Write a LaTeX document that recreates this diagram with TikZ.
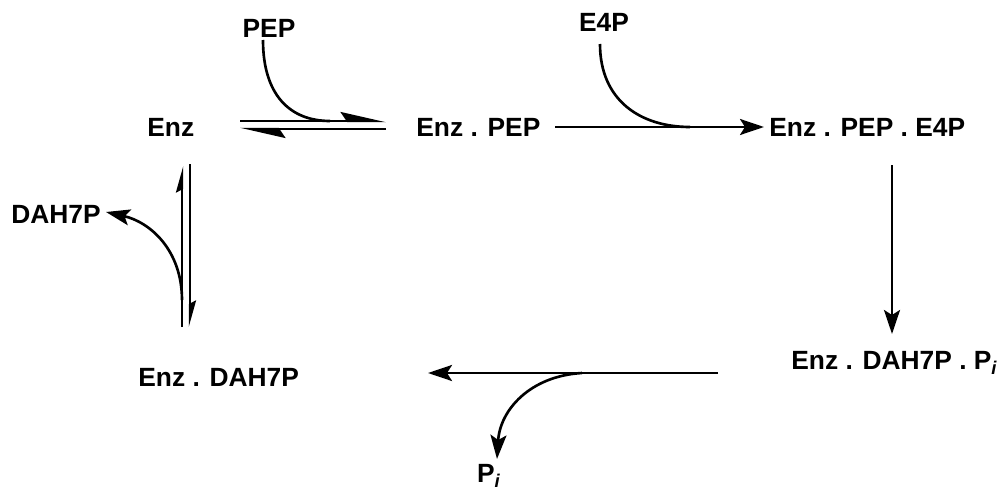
\documentclass[tikz,border=0pt]{standalone}
\usepackage{fontspec}
\setmainfont{Liberation Sans}
\usetikzlibrary{arrows.meta}
\begin{document}
\begin{tikzpicture}[x=0.02cm,y=-0.02cm,
  lbl/.style={inner sep=0pt,font=\fontsize{15}{17}\selectfont\bfseries},
  rxn/.style={line width=1.5pt,-{Stealth[length=24*0.02cm,width=16*0.02cm,inset=5*0.02cm]}},
  half/.style={line width=1.4pt,-{Stealth[harpoon,length=40*0.02cm,width=18*0.02cm,inset=6*0.02cm]}},
  vhalf/.style={line width=1.4pt,-{Stealth[harpoon,length=22*0.02cm,width=12*0.02cm,inset=3*0.02cm]}},
  sidecurve/.style={line width=1.5pt}]
\useasboundingbox (0,0) rectangle (1001,490);
% species
\node[lbl,anchor=west] (enz) at (147,127) {Enz};
\node[lbl,anchor=west] (enzpep) at (416,127) {Enz . PEP};
\node[lbl,anchor=west] (tern) at (769,127) {Enz . PEP . E4P};
\node[lbl,anchor=west] (dahpi) at (791,363) {Enz . DAH7P . P\textsubscript{\textit{i}}};
\node[lbl,anchor=west] (enzdah) at (138,377) {Enz . DAH7P};
\node[lbl] (pep) at (269,28) {PEP};
\node[lbl] (e4p) at (604,22) {E4P};
\node[lbl,anchor=west] (dah) at (11,214) {DAH7P};
\node[lbl] (pi) at (489,476) {P\textsubscript{\textit{i}}};
% connector endpoints
\coordinate (eqA) at (240,121); \coordinate (eqB) at (386,121);
\coordinate (eqC) at (386,129); \coordinate (eqD) at (240,129);
\coordinate (pepS) at (263,40); \coordinate (pepJ) at (330,121);
\coordinate (fA) at (555,127); \coordinate (fB) at (764,127);
\coordinate (e4pS) at (600,44); \coordinate (e4pJ) at (690,127);
\coordinate (vA) at (892,165); \coordinate (vB) at (892,334);
\coordinate (hA) at (718,373); \coordinate (hB) at (428,373);
\coordinate (piS) at (582,373); \coordinate (piT) at (497,459);
\coordinate (lA) at (182,327); \coordinate (lB) at (182,166);
\coordinate (rA) at (190,164); \coordinate (rB) at (190,327);
\coordinate (dS) at (182,300); \coordinate (dT) at (106,212);
% equilibrium Enz <-> Enz.PEP
\draw[half] (eqA) -- (eqB);
\draw[half] (eqC) -- (eqD);
\draw[sidecurve] (pepS) .. controls (263,95) and (290,121) .. (pepJ);
% Enz.PEP -> ternary
\draw[rxn] (fA) -- (fB);
\draw[sidecurve] (e4pS) .. controls (600,100) and (640,127) .. (e4pJ);
% ternary -> Enz.DAH7P.Pi
\draw[rxn] (vA) -- (vB);
% -> Enz.DAH7P + Pi
\draw[rxn] (hA) -- (hB);
\draw[rxn] (piS) .. controls (530,376) and (500,410) .. (piT);
% equilibrium Enz.DAH7P <-> Enz + DAH7P
\draw[vhalf] (lA) -- (lB);
\draw[vhalf] (rA) -- (rB);
\draw[rxn] (dS) .. controls (182,250) and (150,222) .. (dT);
\end{tikzpicture}
\end{document}
